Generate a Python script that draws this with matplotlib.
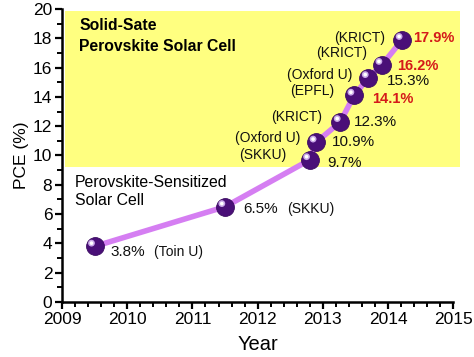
import matplotlib
matplotlib.use("Agg")
import matplotlib.pyplot as plt
import matplotlib.transforms as mtrans
from matplotlib.patches import Rectangle
from matplotlib.ticker import MultipleLocator

plt.rcParams['font.family'] = ['Liberation Sans', 'DejaVu Sans']

# datos
anios = [2009.5, 2011.5, 2012.8, 2012.9, 2013.27, 2013.48, 2013.7, 2013.91, 2014.22]
pce = [3.8, 6.5, 9.7, 10.9, 12.3, 14.1, 15.3, 16.2, 17.9]
etiquetas = ['3.8%', '6.5%', '9.7%', '10.9%', '12.3%', '14.1%', '15.3%', '16.2%', '17.9%']
grupos = ['(Toin U)', '(SKKU)', '(SKKU)', '(Oxford U)', '(KRICT)', '(EPFL)', '(Oxford U)', '(KRICT)', '(KRICT)']
destacados = [False, False, False, False, False, True, False, True, True]

fig = plt.figure(figsize=(4.74, 3.57), dpi=100)
ax = fig.add_axes([0.131, 0.154, 0.825, 0.821])

# caja amarilla (celdas de estado solido)
caja = Rectangle((2009.05, 9.2), 6.05, 10.65, facecolor='#ffff80', edgecolor='none',
                 zorder=0, clip_on=False)
ax.add_patch(caja)

ax.plot(anios, pce, color='#d57ef2', lw=4, zorder=2, solid_capstyle='round')
ax.scatter(anios, pce, s=165, color='#4a0f78', edgecolors='#3a0a60', linewidths=0.6, zorder=3)
# brillo de las esferas
brillo = mtrans.offset_copy(ax.transData, fig=fig, x=-2.3, y=2.3, units='points')
ax.scatter(anios, pce, s=24, color='#c9a8e8', edgecolors='none', zorder=4, transform=brillo)
ax.scatter(anios, pce, s=7, color='white', edgecolors='none', zorder=5, transform=brillo)

# desplazamientos de las etiquetas en puntos
off_val = [(11.5, -4.3), (13, -1.6), (12.5, -2.2), (11.5, 0), (10, 0), (13, -2.6), (13, -2.2), (11, -1.2), (8, 1.3)]
off_grp = [None, None, (-16.5, 3.6), (-11.5, 3), (-13, 3.5), (-14, 3), (-11.5, 2), (-11, 8.4), (-12.5, 1.3)]
for i in range(len(pce)):
    dx, dy = off_val[i]
    if destacados[i]:
        ax.annotate(etiquetas[i], (anios[i], pce[i]), xytext=(dx, dy), textcoords='offset points',
                    ha='left', va='center', fontsize=10.5, fontweight='bold', color='#d41a1a', zorder=6)
    else:
        ax.annotate(etiquetas[i], (anios[i], pce[i]), xytext=(dx, dy), textcoords='offset points',
                    ha='left', va='center', fontsize=11, color='#111111', zorder=6)
    if off_grp[i] is None:
        ax.annotate(grupos[i], (anios[i], pce[i]), xytext=(dx + 31.5, dy), textcoords='offset points',
                    ha='left', va='center', fontsize=10, color='#111111', zorder=6)
    else:
        gx, gy = off_grp[i]
        ax.annotate(grupos[i], (anios[i], pce[i]), xytext=(gx, gy), textcoords='offset points',
                    ha='right', va='center', fontsize=10, color='#111111', zorder=6)

ax.text(2009.26, 18.15, 'Solid-Sate\nPerovskite Solar Cell', fontsize=11.3, fontweight='bold',
        va='center', ha='left', linespacing=1.5, zorder=6)
ax.text(2009.2, 7.55, 'Perovskite-Sensitized\nSolar Cell', fontsize=11.4, va='center', ha='left',
        linespacing=1.3, zorder=6)

ax.set_xlim(2009, 2015)
ax.set_ylim(0, 20)
ax.xaxis.set_major_locator(MultipleLocator(1))
ax.xaxis.set_minor_locator(MultipleLocator(0.2))
ax.yaxis.set_major_locator(MultipleLocator(2))
ax.yaxis.set_minor_locator(MultipleLocator(1))
ax.spines['top'].set_visible(False)
ax.spines['right'].set_visible(False)
ax.spines['left'].set_linewidth(1.8)
ax.spines['bottom'].set_linewidth(1.8)
ax.tick_params(which='major', direction='out', length=5, width=1.6, labelsize=12.5, pad=2)
ax.tick_params(which='minor', direction='out', length=3.5, width=1.4)
ax.set_xlabel('Year', fontsize=14.5, labelpad=6)
ax.set_ylabel('PCE (%)', fontsize=12.5, labelpad=3)

fig.savefig('out.png', dpi=100)
